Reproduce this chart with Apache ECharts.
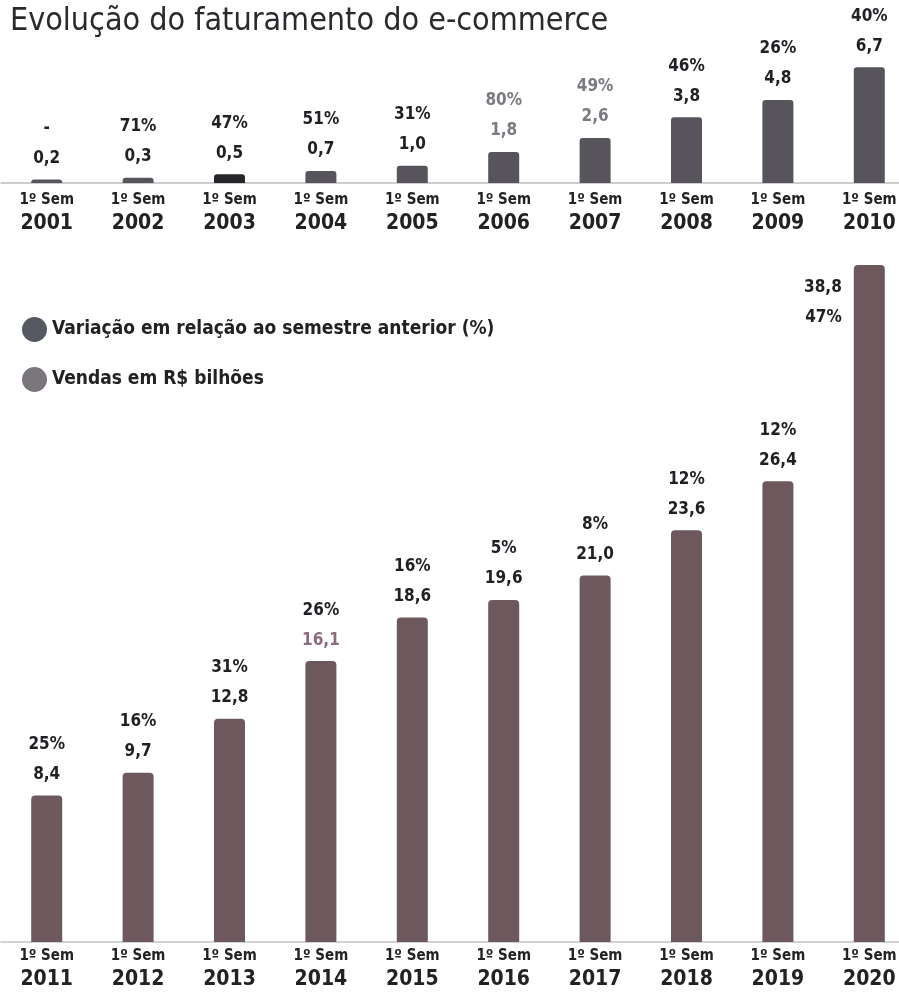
<!DOCTYPE html>
<html>
<head>
<meta charset="utf-8">
<script src="https://cdn.jsdelivr.net/npm/echarts@6/dist/echarts.min.js"></script>
<style>
  html, body { margin: 0; padding: 0; background: #fff; }
  #grafico { width: 899px; height: 993px; }
</style>
</head>
<body>
<div id="grafico"></div>
<script>
// Dados
var semestre = '1º Sem';
var anosTopo = ['2001', '2002', '2003', '2004', '2005', '2006', '2007', '2008', '2009', '2010'];
var vendasTopo = [0.2, 0.3, 0.5, 0.7, 1.0, 1.8, 2.6, 3.8, 4.8, 6.7];
var variacaoTopo = [null, 71, 47, 51, 31, 80, 49, 46, 26, 40];

var anosBaixo = ['2011', '2012', '2013', '2014', '2015', '2016', '2017', '2018', '2019', '2020'];
var vendasBaixo = [8.4, 9.7, 12.8, 16.1, 18.6, 19.6, 21.0, 23.6, 26.4, 38.8];
var variacaoBaixo = [25, 16, 31, 26, 16, 5, 8, 12, 12, 47];

var nomeVar = 'Variação em relação ao semestre anterior (%)';
var nomeVendas = 'Vendas em R$ bilhões';
var fonte = '"DejaVu Sans Condensed", "DejaVu Sans", sans-serif';

function virgula(v) { return v.toFixed(1).replace('.', ','); }
function pct(v) { return v == null ? '-' : v + '%'; }

var richRotulo = {
  p: { fontSize: 17, fontWeight: 'bold', color: '#1f1f24', lineHeight: 30, fontFamily: fonte },
  v: { fontSize: 17, fontWeight: 'bold', color: '#1f1f24', lineHeight: 30, fontFamily: fonte },
  pg: { fontSize: 17, fontWeight: 'bold', color: '#7a7a80', lineHeight: 30, fontFamily: fonte },
  vg: { fontSize: 17, fontWeight: 'bold', color: '#7a7a80', lineHeight: 30, fontFamily: fonte },
  vm: { fontSize: 17, fontWeight: 'bold', color: '#8c6c7c', lineHeight: 30, fontFamily: fonte }
};

function eixoRotulo(margem) {
  return {
    margin: margem,
    formatter: function (v) { return '{s|' + semestre + '}\n{a|' + v + '}'; },
    rich: {
      s: { fontSize: 15, fontWeight: 'bold', color: '#222', lineHeight: 20, fontFamily: fonte },
      a: { fontSize: 21, fontWeight: 'bold', color: '#222', lineHeight: 28, fontFamily: fonte }
    }
  };
}

var grafico = echarts.init(document.getElementById('grafico'));

var dadosBaixo = vendasBaixo.map(function (v, i) {
  if (i === vendasBaixo.length - 1) {
    return {
      value: v,
      label: {
        position: [-12, 8],
        align: 'right',
        verticalAlign: 'top',
        formatter: '{v|' + virgula(v) + '}\n{p|' + pct(variacaoBaixo[i]) + '}'
      }
    };
  }
  return v;
});

var dadosTopo = vendasTopo.map(function (v, i) {
  if (i === 2) return { value: v, itemStyle: { color: '#26262b' } };
  return v;
});

var option = {
  backgroundColor: '#fff',
  animation: false,
  title: {
    text: 'Evolução do faturamento do e-commerce',
    left: 5,
    top: 1,
    textStyle: { fontSize: 32, fontWeight: 'normal', color: '#2a2a2e', fontFamily: fonte }
  },
  legend: {
    orient: 'vertical',
    left: 17,
    top: 312,
    icon: 'circle',
    itemWidth: 25,
    itemHeight: 25,
    itemGap: 25,
    textStyle: { fontSize: 19, fontWeight: 'bold', color: '#222', fontFamily: fonte },
    data: [
      { name: nomeVar, itemStyle: { color: '#2c2f3a' } },
      { name: nomeVendas, itemStyle: { color: '#7a767c' } }
    ]
  },
  grid: [
    { left: 1, width: 914, top: 62, bottom: 810, outerBoundsMode: 'none', containLabel: false },
    { left: 1, width: 914, top: 265, bottom: 51, outerBoundsMode: 'none', containLabel: false }
  ],
  xAxis: [
    {
      type: 'category', gridIndex: 0, data: anosTopo,
      axisLine: { lineStyle: { color: '#bdbdbd', width: 1.5 } },
      axisTick: { show: false },
      axisLabel: eixoRotulo(7)
    },
    {
      type: 'category', gridIndex: 1, data: anosBaixo,
      axisLine: { lineStyle: { color: '#c4c4c4', width: 1.5 } },
      axisTick: { show: false },
      axisLabel: eixoRotulo(4)
    }
  ],
  yAxis: [
    { type: 'value', gridIndex: 0, min: 0, max: 7, show: false },
    { type: 'value', gridIndex: 1, min: 0, max: 38.8, show: false }
  ],
  series: [
    {
      name: nomeVendas,
      type: 'bar',
      xAxisIndex: 0, yAxisIndex: 0,
      barWidth: 31,
      data: dadosTopo,
      itemStyle: { color: '#57545b', borderRadius: [3, 3, 0, 0] },
      label: {
        show: true,
        position: 'top',
        distance: 6,
        formatter: function (p) {
          var i = p.dataIndex;
          var cinza = (i === 5 || i === 6);
          return '{' + (cinza ? 'pg' : 'p') + '|' + pct(variacaoTopo[i]) + '}\n{' +
            (cinza ? 'vg' : 'v') + '|' + virgula(vendasTopo[i]) + '}';
        },
        rich: richRotulo
      }
    },
    {
      name: nomeVendas,
      type: 'bar',
      xAxisIndex: 1, yAxisIndex: 1,
      barWidth: 31,
      data: dadosBaixo,
      itemStyle: { color: '#6c585d', borderRadius: [4, 4, 0, 0] },
      label: {
        show: true,
        position: 'top',
        distance: 6,
        formatter: function (p) {
          var i = p.dataIndex;
          return '{p|' + pct(variacaoBaixo[i]) + '}\n{' + (i === 3 ? 'vm' : 'v') + '|' +
            virgula(vendasBaixo[i]) + '}';
        },
        rich: richRotulo
      }
    },
    {
      name: nomeVar,
      type: 'scatter',
      xAxisIndex: 1, yAxisIndex: 1,
      data: []
    }
  ]
};

grafico.setOption(option);
</script>
</body>
</html>
